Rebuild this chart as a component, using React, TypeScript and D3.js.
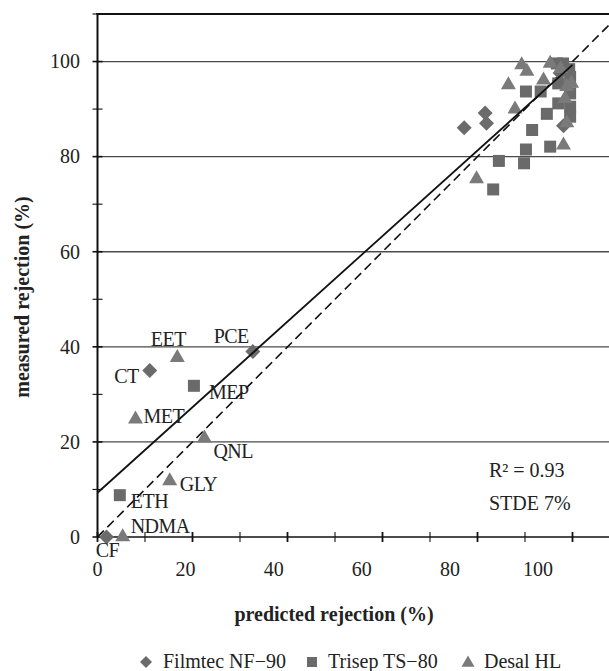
import React from "react";
import * as d3 from "d3";

const width = 609;
const height = 671;
const margin = { top: 14, left: 97.5, bottom: 134 };

// [predicted, measured, label?]
type Pt = [number, number, string?];

const filmtec: Pt[] = [
  [1.9, 0, "CF"],
  [11, 35, "CT"],
  [32.7, 39, "PCE"],
  [77.2, 86.1],
  [81.6, 89.2],
  [81.9, 87.0],
  [98.1, 86.5],
  [97.4, 97.6],
];

const trisep: Pt[] = [
  [4.7, 8.8, "ETH"],
  [20.3, 31.8, "MEP"],
  [83.3, 73.1],
  [84.5, 79.1],
  [89.8, 78.6],
  [90.2, 81.5],
  [91.5, 85.6],
  [90.2, 93.7],
  [93.3, 93.7],
  [95.3, 82.1],
  [94.6, 89.0],
  [97, 91.2],
  [99.5, 90.5],
  [99.5, 88.4],
  [97, 95.4],
  [99.5, 93.3],
  [99.5, 96.8],
  [96.7, 99.6],
  [98, 99.6],
  [99.3, 98.4],
];

const desal: Pt[] = [
  [5.3, 0, "NDMA"],
  [15.2, 11.8, "GLY"],
  [22.5, 20.8, "QNL"],
  [8, 24.8, "MET"],
  [16.8, 37.7, "EET"],
  [79.8, 75.3],
  [86.5, 95.1],
  [87.9, 90],
  [89.3, 99.3],
  [90.4, 97.9],
  [93.9, 96.1],
  [95.3, 99.6],
  [98.1, 82.4],
  [98.8, 87.1],
  [98.8, 94.7],
  [99.8, 95.4],
  [97.5, 98.5],
  [98.4, 92.2],
];

const xTicks = [0, 20, 40, 60, 80, 100];
const yTicks = [0, 20, 40, 60, 80, 100];
const minorTicks = [10, 30, 50, 70, 90, 110];

// fitted trend line: measured = slope * predicted + intercept
const slope = 0.9;
const intercept = 9.3;
const fitRange = [0, 100];

const legendItems = ["Filmtec NF\u221290", "Trisep TS\u221280", "Desal HL"];

// label placement: dx, dy from the marker, anchor
const labelPos: Record<string, [number, number, string]> = {
  CF: [1, 20, "middle"],
  CT: [-11, 12, "end"],
  PCE: [-4, -9, "end"],
  ETH: [11, 13, "start"],
  MEP: [15, 13, "start"],
  NDMA: [8, -4, "start"],
  GLY: [10, 10, "start"],
  QNL: [9, 20, "start"],
  MET: [8, 4, "start"],
  EET: [-9, -12, "middle"],
};

const font = "'Liberation Serif', 'Times New Roman', serif";
const markerColor = { diamond: "#6b6b6b", square: "#6a6a6a", triangle: "#7a7a7a" };

const x = d3.scaleLinear().domain([0, 110]).range([margin.left, margin.left + 110 * 4.75]);
const y = d3.scaleLinear().domain([0, 110]).range([height - margin.bottom, margin.top]);
// the original figure prints its x labels on a slightly compressed spacing
const xLabel = d3.scaleLinear().domain([0, 100]).range([margin.left, 538]);

// marker outlines, centred on 0,0
const diamond = (r: number) => `M0,${-r}L${r},0L0,${r}L${-r},0Z`;
const square = (s: number) => `M${-s / 2},${-s / 2}h${s}v${s}h${-s}Z`;
const triangle = (s: number) => {
  const h = (s * Math.sqrt(3)) / 2;
  return `M0,${(-2 * h) / 3}L${s / 2},${h / 3}L${-s / 2},${h / 3}Z`;
};

const App = () => {
  const x0 = x(0);
  const y0 = y(0);
  const xRight = width;
  const line = d3
    .line<number>()
    .x((d) => x(d))
    .y((d) => y(slope * d + intercept));
  const dashed = d3
    .line<number>()
    .x((d) => x(d))
    .y((d) => y(d));

  const series = [
    { data: filmtec, path: diamond(7.5), color: markerColor.diamond },
    { data: trisep, path: square(12), color: markerColor.square },
    { data: desal, path: triangle(15), color: markerColor.triangle },
  ];

  const allTicks = d3.range(0, 111, 10);

  return (
    <div style={{ position: "absolute", left: 0, top: 0 }}>
      <svg width={width} height={height} style={{ display: "block", fontFamily: font }}>
        <defs>
          <clipPath id="plot">
            <rect x={x0} y={margin.top} width={xRight - x0} height={y0 - margin.top} />
          </clipPath>
        </defs>
        {/* gridlines */}
        {yTicks.slice(1).map((t) => (
          <line key={t} x1={x0} x2={xRight} y1={y(t)} y2={y(t)} stroke="#4a4a4a" strokeWidth={1.3} />
        ))}
        {/* top border */}
        <line x1={x0 - 1} x2={xRight} y1={margin.top} y2={margin.top} stroke="#111" strokeWidth={2} />

        <g clipPath="url(#plot)">
          <path d={dashed([0, 110]) || ""} fill="none" stroke="#111" strokeWidth={1.6} strokeDasharray="9,5" />
        </g>

        {/* axes */}
        <line x1={x0} x2={x0} y1={margin.top - 1} y2={y0} stroke="#111" strokeWidth={2} />
        <line x1={x0} x2={xRight} y1={y0} y2={y0} stroke="#111" strokeWidth={1.6} />
        {allTicks.map((t) => (
          <line
            key={"xt" + t}
            x1={x(t)}
            x2={x(t)}
            y1={y0 - 5}
            y2={y0 + 5}
            stroke="#111"
            strokeWidth={xTicks.includes(t) ? 1.8 : 1.1}
          />
        ))}
        {allTicks.map((t) => (
          <line
            key={"yt" + t}
            x1={x0 - 5}
            x2={x0 + 5}
            y1={y(t)}
            y2={y(t)}
            stroke="#111"
            strokeWidth={minorTicks.includes(t) ? 1.1 : 1.6}
          />
        ))}
        {xTicks.map((t) => (
          <text key={"xl" + t} x={xLabel(t)} y={576} textAnchor="middle" fontSize={20} fill="#222">
            {t}
          </text>
        ))}
        {yTicks.map((t) => (
          <text key={"yl" + t} x={80} y={y(t)} dy="0.34em" textAnchor="end" fontSize={20} fill="#222">
            {t}
          </text>
        ))}

        {/* markers */}
        {series.map((s, si) =>
          s.data.map((d, i) => (
            <path key={si + "-" + i} d={s.path} transform={`translate(${x(d[0])},${y(d[1])})`} fill={s.color} />
          ))
        )}

        {/* trend line */}
        <path d={line(fitRange) || ""} fill="none" stroke="#111" strokeWidth={1.8} />

        {/* point labels */}
        {series.map((s) =>
          s.data
            .filter((d) => d[2])
            .map((d) => {
              const p = labelPos[d[2] as string];
              return (
                <text
                  key={d[2]}
                  x={x(d[0]) + p[0]}
                  y={y(d[1]) + p[1]}
                  textAnchor={p[2]}
                  fontSize={20}
                  fill="#222"
                  letterSpacing={-0.5}
                >
                  {d[2]}
                </text>
              );
            })
        )}

        <text x={489} y={477} fontSize={20} fill="#222">
          R² = 0.93
        </text>
        <text x={489} y={510} fontSize={20} fill="#222">
          STDE 7%
        </text>

        {/* axis titles */}
        <text x={334} y={621} textAnchor="middle" fontSize={20} fontWeight="bold" fill="#222">
          predicted rejection (%)
        </text>
        <text
          transform={`translate(29,297) rotate(-90)`}
          textAnchor="middle"
          fontSize={20}
          fontWeight="bold"
          fill="#222"
        >
          measured rejection (%)
        </text>

        {/* legend */}
        <g fontSize={20} fill="#222">
          <path d={diamond(6)} transform="translate(146,662)" fill={markerColor.diamond} />
          <text x={163} y={668}>{legendItems[0]}</text>
          <path d={square(10)} transform="translate(312,662)" fill={markerColor.square} />
          <text x={328} y={668}>{legendItems[1]}</text>
          <path d={triangle(13)} transform="translate(468,663)" fill={markerColor.triangle} />
          <text x={484} y={668}>{legendItems[2]}</text>
        </g>
      </svg>
    </div>
  );
};

export default App;
